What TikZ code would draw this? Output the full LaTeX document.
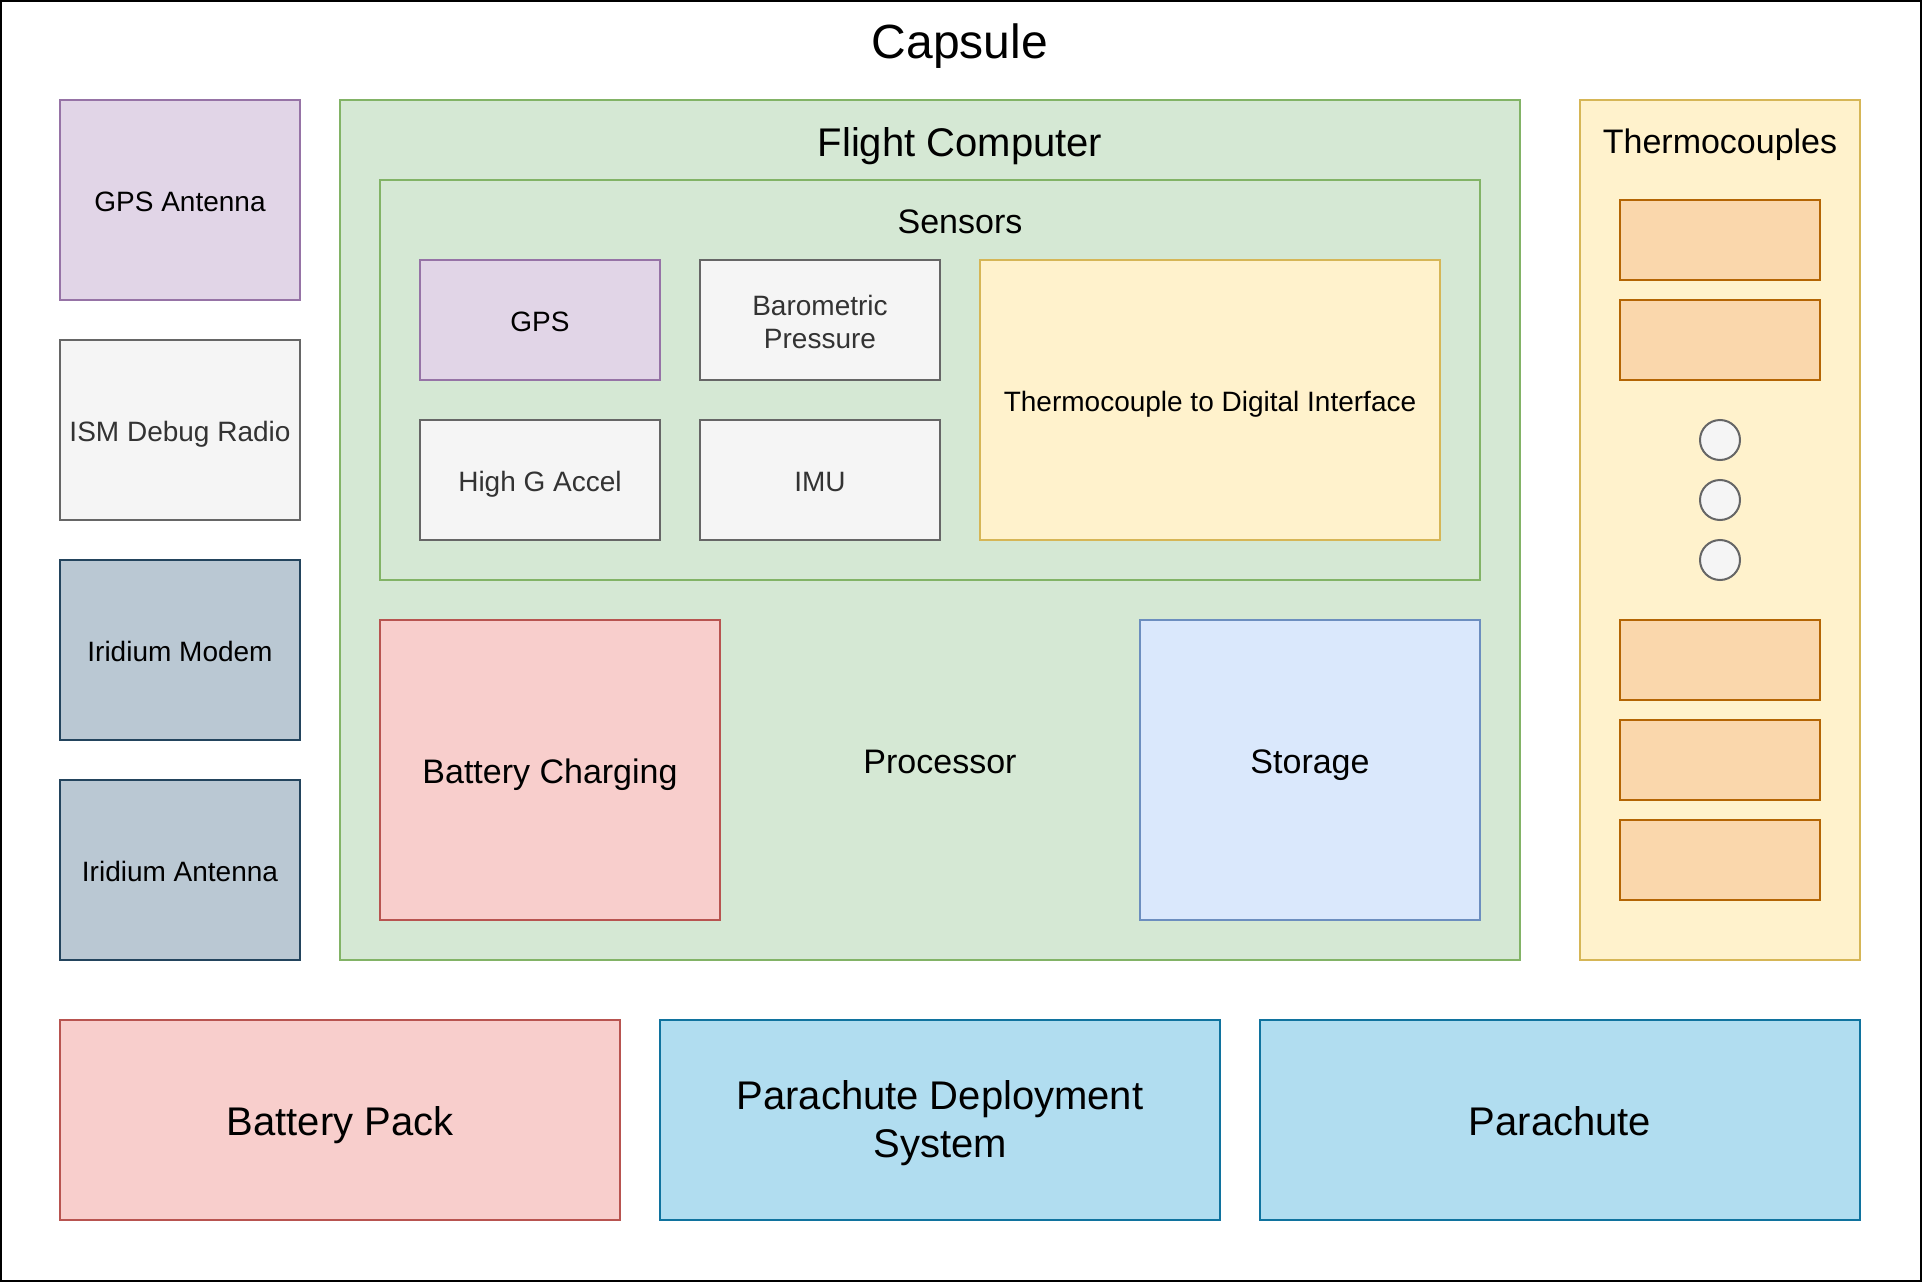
\documentclass[tikz,border=0pt]{standalone}
\usepackage{fontspec}
\setmainfont{Liberation Sans}
\usepackage{tikz}
\usepackage{xcolor}
\definecolor{purpfill}{HTML}{E1D5E7}
\definecolor{purpline}{HTML}{9673A6}
\definecolor{greyfill}{HTML}{F5F5F5}
\definecolor{greyline}{HTML}{666666}
\definecolor{greytext}{HTML}{333333}
\definecolor{greenfill}{HTML}{D5E8D4}
\definecolor{greenline}{HTML}{82B366}
\definecolor{yellfill}{HTML}{FFF2CC}
\definecolor{yellline}{HTML}{D6B656}
\definecolor{redfill}{HTML}{F8CECC}
\definecolor{redline}{HTML}{B85450}
\definecolor{bluefill}{HTML}{DAE8FC}
\definecolor{blueline}{HTML}{6C8EBF}
\definecolor{slatefill}{HTML}{BAC8D3}
\definecolor{slateline}{HTML}{23445D}
\definecolor{orngfill}{HTML}{FAD7AC}
\definecolor{orngline}{HTML}{B46504}
\definecolor{cyanfill}{HTML}{B1DDF0}
\definecolor{cyanline}{HTML}{10739E}
\usetikzlibrary{positioning}

\begin{document}
\begin{tikzpicture}[x=1pt,y=-1pt,
    every node/.style={inner sep=0pt, line width=1pt, align=center},
    sz/.style 2 args={minimum width=#1pt, minimum height=#2pt},
    fs/.style={font=\fontsize{#1}{1.2\dimexpr#1pt\relax}\selectfont,
        text height=\dimexpr#1pt*72/100+1.5pt\relax, text depth=0pt},
    fsm/.style={font=\fontsize{#1}{1.2\dimexpr#1pt\relax}\selectfont},
    purp/.style={fill=purpfill, draw=purpline},
    grey/.style={fill=greyfill, draw=greyline, text=greytext},
    green/.style={fill=greenfill, draw=greenline},
    yell/.style={fill=yellfill, draw=yellline},
    red/.style={fill=redfill, draw=redline},
    blue/.style={fill=bluefill, draw=blueline},
    slate/.style={fill=slatefill, draw=slateline},
    tcbox/.style={fill=orngfill, draw=orngline, sz={100}{40}},
    cyan/.style={fill=cyanfill, draw=cyanline, sz={280}{100}}]
    \fill[white] (0,0) rectangle (962,642);
    \useasboundingbox (0,0) rectangle (962,642);
    % outer capsule
    \node[draw=black, sz={960}{640}] (capsule) at (480.5,320.5) {};
    \node[fs=24] (capsuletitle) at (480,20) {Capsule};
    % left column
    \node[purp, sz={120}{100}, fs=14] (gpsant) at (90,100) {GPS Antenna};
    \node[grey, sz={120}{90}, fs=14] (ismradio) at (90,215) {ISM Debug Radio};
    \node[slate, sz={120}{90}, fs=14] (irmodem) at (90,325) {Iridium Modem};
    \node[slate, sz={120}{90}, fs=14] (irant) at (90,435) {Iridium Antenna};
    % flight computer
    \node[green, sz={590}{430}] (fc) at (465,265) {};
    \node[fs=20] (fctitle) at (480,70.5) {Flight Computer};
    \node[green, sz={550}{200}] (sensors) at (465,190) {};
    \node[fs=17] (sensorstitle) at (480,110) {Sensors};
    \node[purp, sz={120}{60}, fs=14] (gps) at (270,160) {GPS};
    \node[grey, sz={120}{60}] (baro) at (410,160) {};
    \node[fsm=14, text=greytext] (barotext) at (410,161) {Barometric\\Pressure};
    \node[grey, sz={120}{60}, fs=14] (highg) at (270,240) {High G Accel};
    \node[grey, sz={120}{60}, fs=14] (imu) at (410,240) {IMU};
    \node[yell, sz={230}{140}, fs=14] (tdi) at (605,200) {Thermocouple to Digital Interface};
    \node[red, sz={170}{150}, fs=17] (charging) at (275,385) {Battery Charging};
    \node[fs=17] (processor) at (470,380) {Processor};
    \node[blue, sz={170}{150}] (storage) at (655,385) {};
    \node[fs=17] (storagetext) at (655,380) {Storage};
    % thermocouples
    \node[yell, sz={140}{430}] (thermo) at (860,265) {};
    \node[fs=17] (thermotitle) at (860,70) {Thermocouples};
    \foreach \y/\n in {120/1,170/2,330/3,380/4,430/5}
        \node[tcbox] (tc\n) at (860,\y) {};
    \foreach \y/\n in {220/1,250/2,280/3}
        \node[circle, fill=greyfill, draw=greyline, minimum size=20pt] (dot\n) at (860,\y) {};
    % bottom row
    \node[red, sz={280}{100}, fs=20] (battpack) at (170,560) {Battery Pack};
    \node[cyan] (pds) at (470,560) {};
    \node[fsm=20] (pdstext) at (470,561.7) {Parachute Deployment\\System};
    \node[cyan, sz={300}{100}, fs=20] (chute) at (780,560) {Parachute};
\end{tikzpicture}
\end{document}
